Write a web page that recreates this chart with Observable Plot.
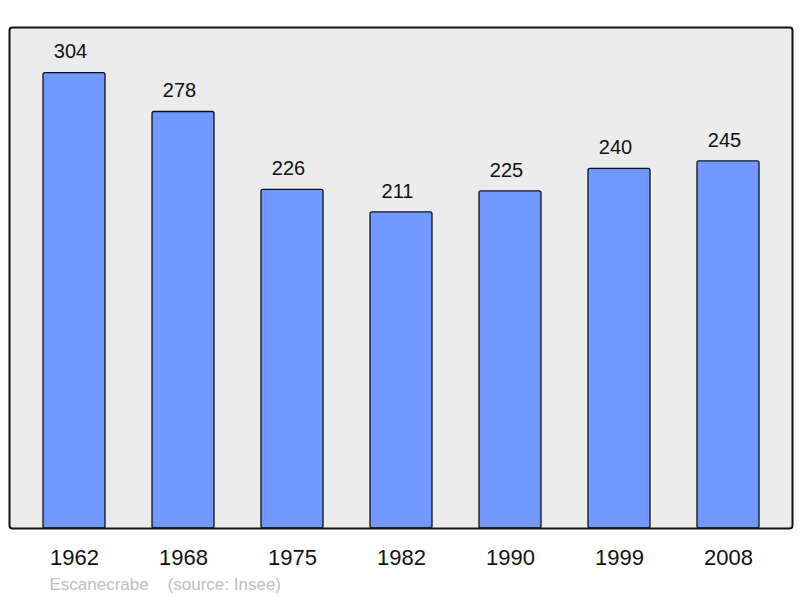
<!DOCTYPE html>
<html>
<head>
<meta charset="utf-8">
<script src="https://cdn.jsdelivr.net/npm/d3@7"></script>
<script src="https://cdn.jsdelivr.net/npm/@observablehq/plot@0.6"></script>
<style>
  html, body { margin: 0; padding: 0; background: #fff; }
  svg { display: block; }
</style>
</head>
<body>
<div id="chart"></div>
<script>
const years = ["1962", "1968", "1975", "1982", "1990", "1999", "2008"];
const population = [304, 278, 226, 211, 225, 240, 245];
const footnote = "Escanecrabe\u00a0\u00a0\u00a0\u00a0(source: Insee)";

const data = years.map((y, i) => ({year: y, value: population[i]}));

const chart = Plot.plot({
  width: 800,
  height: 598,
  marginLeft: 9,
  marginRight: 8,
  marginTop: 27,
  marginBottom: 70,
  style: {fontFamily: "'Liberation Sans', Arial, sans-serif", background: "#fff"},
  x: {domain: years, paddingInner: 0.433, paddingOuter: 0.3, label: null},
  y: {domain: [0, d3.max(population) * 1.1], axis: null},
  marks: [
    Plot.frame({fill: "#ececec", stroke: "none"}),
    Plot.barY(data, {x: "year", y: "value", fill: "#7098ff", stroke: "#111", strokeWidth: 1.3, rx: 2}),
    Plot.text(data, {x: "year", y: "value", text: d => String(d.value), dx: -4, dy: -21, fontSize: 20, fill: "#111"}),
    Plot.frame({stroke: "#111", strokeWidth: 2, rx: 3}),
    Plot.axisX({tickSize: 0, tickPadding: 21, fontSize: 22, fill: "#111", label: null}),
    Plot.text([footnote], {text: d => d, frameAnchor: "bottom-left", dx: 40, dy: 61, textAnchor: "start", fontSize: 17, fill: "#c0c0c0"})
  ]
});
document.getElementById("chart").appendChild(chart);
</script>
</body>
</html>
